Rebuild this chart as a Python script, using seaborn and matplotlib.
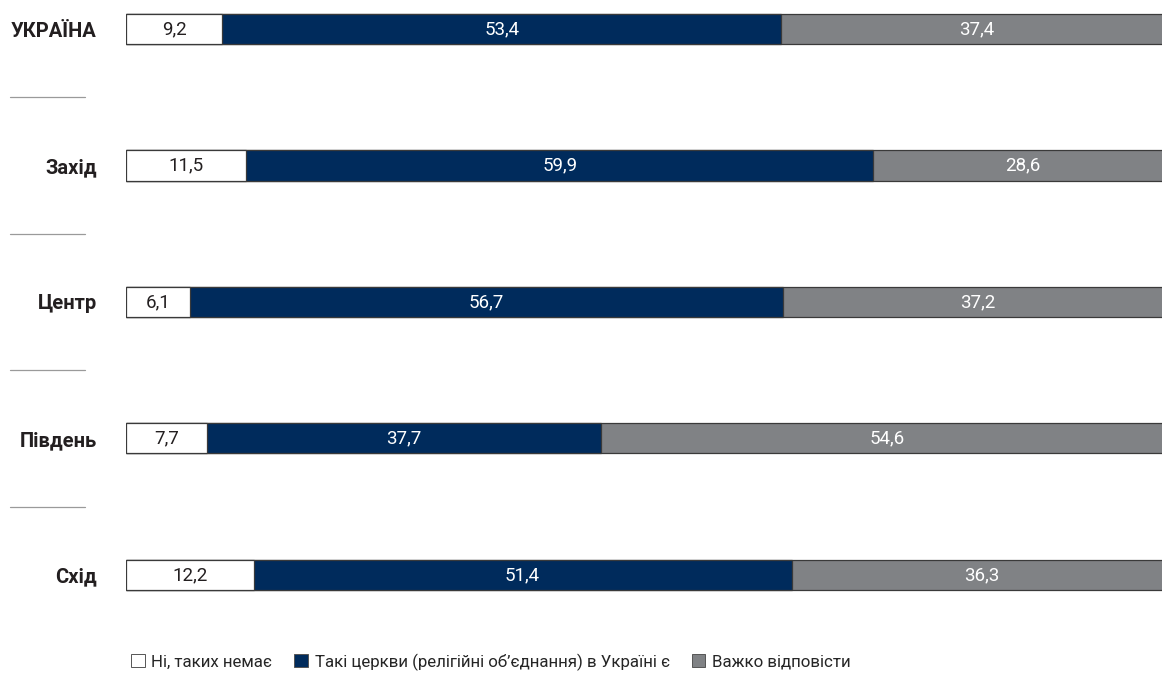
import pandas as pd
import numpy as np
import matplotlib
matplotlib.use("Agg")
import matplotlib.pyplot as plt
import seaborn as sns
from matplotlib.patches import Patch
from matplotlib.transforms import blended_transform_factory

regions = ["УКРАЇНА", "Захід", "Центр", "Південь", "Схід"]
no_such = [9.2, 11.5, 6.1, 7.7, 12.2]
yes_exist = [53.4, 59.9, 56.7, 37.7, 51.4]
hard_to_say = [37.4, 28.6, 37.2, 54.6, 36.3]
legend_labels = ["Ні, таких немає",
                 "Такі церкви (релігійні об’єднання) в Україні є",
                 "Важко відповісти"]
colors = ["#ffffff", "#002b5c", "#808285"]

sns.set_style("white")
plt.rcParams["font.family"] = ["Roboto", "DejaVu Sans"]

df = pd.DataFrame({"region": regions, "no": no_such, "yes": yes_exist, "hard": hard_to_say})
df["c1"] = df["no"]
df["c2"] = df["no"] + df["yes"]
df["c3"] = df["no"] + df["yes"] + df["hard"]

fig = plt.figure(figsize=(11.62, 6.88), dpi=100)
ax = fig.add_axes([126 / 1162, 1 - 620 / 688, 1036 / 1162, 620 / 688])

# stacked bars drawn as overlapping cumulative totals
bar_h = 0.22
for col, c in zip(["c3", "c2", "c1"], colors[::-1]):
    sns.barplot(data=df, x=col, y="region", orient="h", color=c, width=bar_h,
                edgecolor="#3a3a3a", linewidth=0.9, saturation=1, ax=ax)

# value labels
for i, row in df.iterrows():
    starts = [0, row["c1"], row["c2"]]
    for v, s, tc in zip([row["no"], row["yes"], row["hard"]], starts, ["#231f20", "white", "white"]):
        ax.text(s + v / 2, i, f"{v:.1f}".replace(".", ","), ha="center", va="center",
                fontsize=13.5, color=tc)

ax.set_xlim(0, 99.0)
ax.set_ylim(4.33, -0.2125)
ax.set_xlabel("")
ax.set_ylabel("")
ax.set_xticks([])
ax.tick_params(axis="y", length=0, pad=21)
for lbl in ax.get_yticklabels():
    lbl.set_fontweight("bold")
    lbl.set_fontsize(14.5)
    lbl.set_color("#231f20")
sns.despine(ax=ax, left=True, bottom=True)

# separators between rows
tr = blended_transform_factory(fig.transFigure, ax.transData)
for i in range(len(regions) - 1):
    ax.plot([10 / 1162, 85 / 1162], [i + 0.5, i + 0.5], color="#9a9a9a", lw=0.9,
            transform=tr, clip_on=False)

handles = [Patch(facecolor=c, edgecolor="#555555", linewidth=0.7) for c in colors]
fig.legend(handles, legend_labels, loc="center", bbox_to_anchor=(491 / 1162, 1 - 662 / 688),
           ncol=3, frameon=False, fontsize=12.2, handlelength=0.8, handleheight=0.8,
           handletextpad=0.4, columnspacing=1.3)

fig.savefig("out.png", dpi=100)
